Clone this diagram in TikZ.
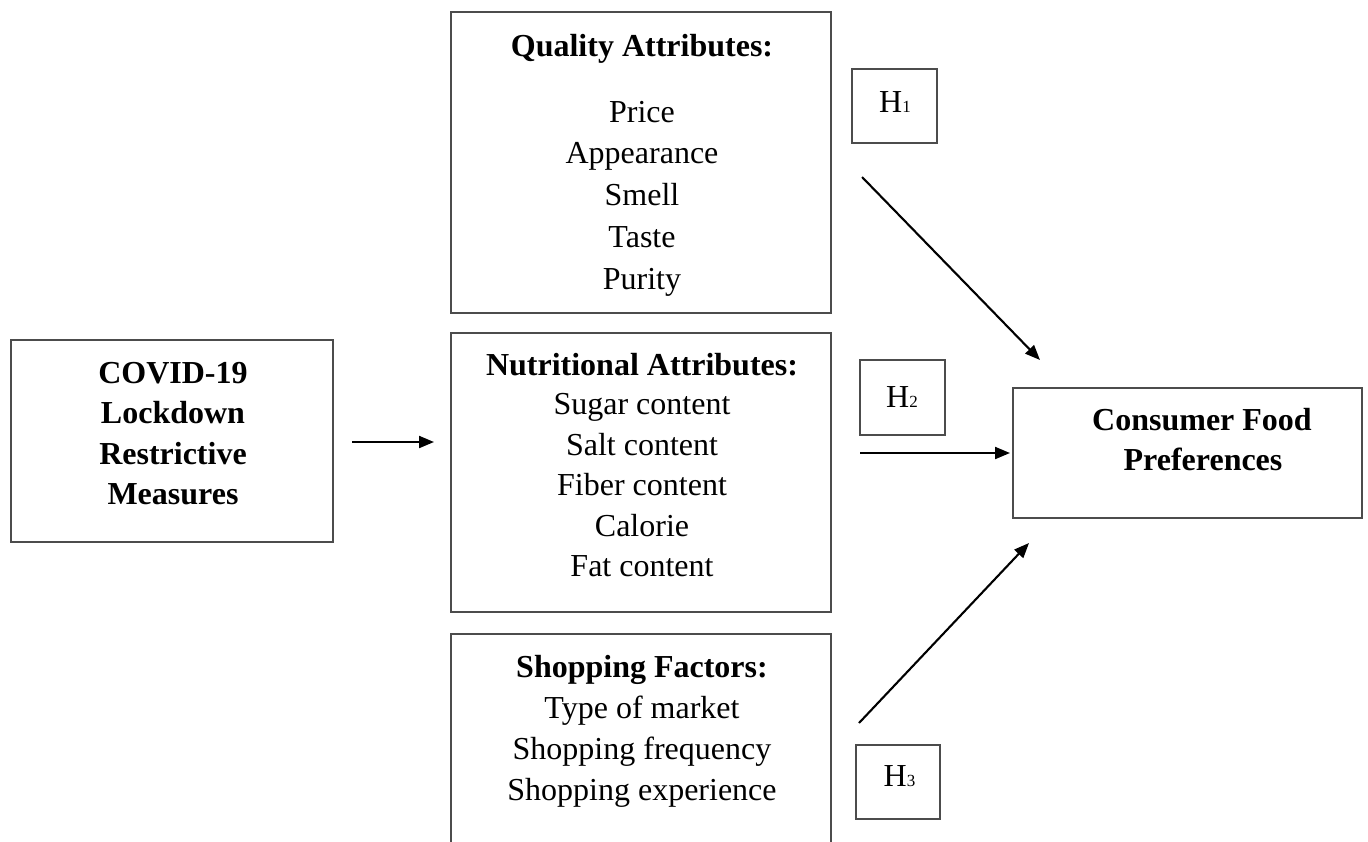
\documentclass[tikz,border=0pt]{standalone}
\usepackage{fontspec}
\setmainfont{Liberation Serif}
\usetikzlibrary{arrows.meta}
\tikzset{
  boxst/.style={draw=black!70, line width=1.6pt, rectangle, inner sep=0pt},
  txt/.style={anchor=base, inner sep=0pt, font=\fontsize{32}{36}\selectfont},
  btxt/.style={txt, font=\fontsize{32}{36}\selectfont\bfseries},
  arr/.style={line width=2.1pt, -{Triangle[length=15pt,width=12pt]}},
}
\newcommand{\hsub}[1]{H{\fontsize{17}{17}\selectfont #1}}
\begin{document}
\begin{tikzpicture}[x=1pt,y=-1pt]
\clip (0,0) rectangle (1368,841);
\fill[white] (0,0) rectangle (1368,841);
% boxes
\node[boxst, minimum width=380pt, minimum height=301pt] (qual) at (641,162.5) {};
\node[boxst, minimum width=380pt, minimum height=279pt] (nutr) at (641,472.5) {};
\node[boxst, minimum width=380pt, minimum height=232pt] (shop) at (641,750) {};
\node[boxst, minimum width=322pt, minimum height=202pt] (covid) at (172,441) {};
\node[boxst, minimum width=349pt, minimum height=130pt] (cons) at (1187.5,453) {};
\node[boxst, minimum width=85pt, minimum height=74pt] (h1box) at (894.5,106) {};
\node[boxst, minimum width=85pt, minimum height=75pt] (h2box) at (902.5,397.5) {};
\node[boxst, minimum width=84pt, minimum height=74pt] (h3box) at (898,782) {};
% quality text
\node[btxt] (qt) at (642,56) {Quality Attributes:};
\foreach \t [count=\i] in {Price,Appearance,Smell,Taste,Purity}
  \node[txt] (q\i) at (642,{122+41.8*(\i-1)}) {\t};
% nutritional text
\node[btxt] (nt) at (642,375) {Nutritional Attributes:};
\foreach \t [count=\i] in {Sugar content,Salt content,Fiber content,Calorie,Fat content}
  \node[txt] (n\i) at (642,{414.5+40.6*(\i-1)}) {\t};
% shopping text
\node[btxt] (st) at (642,677) {Shopping Factors:};
\foreach \t [count=\i] in {Type of market,Shopping frequency,Shopping experience}
  \node[txt] (s\i) at (642,{718+41*(\i-1)}) {\t};
% covid text
\foreach \t [count=\i] in {COVID-19,Lockdown,Restrictive,Measures}
  \node[btxt] (c\i) at (173,{383+40.5*(\i-1)}) {\t};
% consumer text
\node[btxt] (k1) at (1202,430) {Consumer Food};
\node[btxt] (k2) at (1203,470) {Preferences};
% H labels
\node[txt] (h1) at (895,112) {\hsub{1}};
\node[txt] (h2) at (902,407) {\hsub{2}};
\node[txt] (h3) at (899.5,786) {\hsub{3}};
% connector end points
\coordinate (a0s) at (352,442);
\coordinate (a0e) at (434,442);
\coordinate (a1s) at (862,177);
\coordinate (a1e) at (1040,360);
\coordinate (a2s) at (860,453);
\coordinate (a2e) at (1010,453);
\coordinate (a3s) at (859,723);
\coordinate (a3e) at (1029,543);
\draw[arr] (a0s) -- (a0e);
\draw[arr] (a1s) -- (a1e);
\draw[arr] (a2s) -- (a2e);
\draw[arr] (a3s) -- (a3e);
\end{tikzpicture}
\end{document}
